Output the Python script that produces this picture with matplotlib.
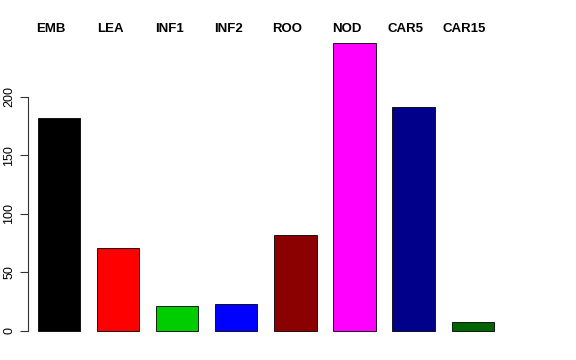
import matplotlib
matplotlib.use("Agg")
import matplotlib.pyplot as plt
import matplotlib.transforms as mtransforms

plt.rcParams["font.family"] = ["Liberation Sans", "DejaVu Sans"]

labels = ["EMB", "LEA", "INF1", "INF2", "ROO", "NOD", "CAR5", "CAR15"]
counts = [182, 71, 21, 23, 82, 246, 191, 8]
colors = ["#000000", "#FF0000", "#00CD00", "#0000FF", "#8B0000", "#FF00FF", "#00008B", "#006400"]

# positions like R barplot (width 1, space 0.4)
xpos = [0.9 + 1.4 * i for i in range(len(counts))]

fig = plt.figure(figsize=(5.76, 3.6), dpi=100)
# axes placed in pixels: x 28..512, y 31..342
ax = fig.add_axes([28 / 576, (360 - 342.5) / 360, (512 - 28) / 576, (342.5 - 31.3) / 360])

ax.bar(xpos, counts, width=1.0, color=colors, edgecolor="black", linewidth=0.6)

ax.set_xlim(0.163, 11.632)
ax.set_ylim(-9.84, 255.84)

for s in ["top", "right", "bottom"]:
    ax.spines[s].set_visible(False)
ax.spines["left"].set_bounds(0, 200)
ax.spines["left"].set_linewidth(0.8)
ax.spines["left"].set_color("#333333")
ax.set_xticks([])
ax.set_yticks([0, 50, 100, 150, 200])
ax.tick_params(axis="y", length=6, width=0.8, color="#333333", labelsize=9, pad=3)
for t in ax.get_yticklabels():
    t.set_rotation(90)
    t.set_va("center")

# category names across the top
trans = mtransforms.blended_transform_factory(ax.transData, fig.transFigure)
for x, name in zip(xpos, labels):
    ax.text(x - 0.19, 1 - 29 / 360, name, transform=trans, ha="center", va="center",
            fontsize=9.5, fontweight="bold", clip_on=False)

fig.savefig("out.png", dpi=100)
